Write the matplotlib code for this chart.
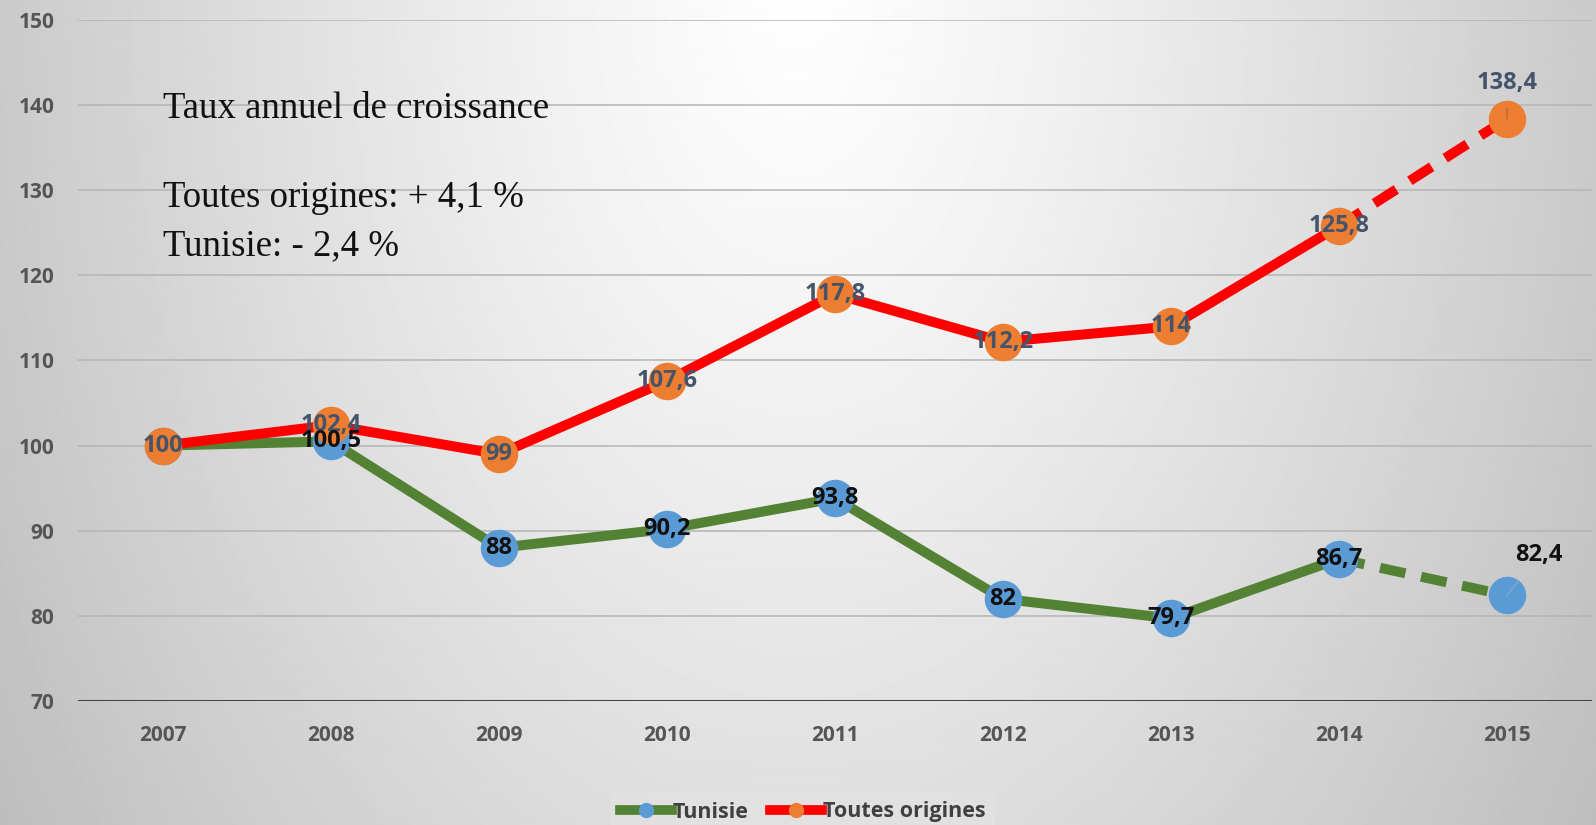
import numpy as np
import matplotlib
matplotlib.use('Agg')
import matplotlib.pyplot as plt
from matplotlib.lines import Line2D

# données
annees = ['2007', '2008', '2009', '2010', '2011', '2012', '2013', '2014', '2015']
tunisie = [100, 100.5, 88, 90.2, 93.8, 82, 79.7, 86.7, 82.4]
toutes = [100, 102.4, 99, 107.6, 117.8, 112.2, 114, 125.8, 138.4]
lab_tunisie = ['100', '100,5', '88', '90,2', '93,8', '82', '79,7', '86,7', '82,4']
lab_toutes = ['100', '102,4', '99', '107,6', '117,8', '112,2', '114', '125,8', '138,4']
yticks = [70, 80, 90, 100, 110, 120, 130, 140, 150]

FONT = 'Open Sans'
W, H = 1596, 825
fig = plt.figure(figsize=(W / 100, H / 100), dpi=100)

# fond dégradé (clair en haut au centre, gris sur les bords)
bg = fig.add_axes([0, 0, 1, 1], zorder=-10)
yy, xx = np.mgrid[0:H:2, 0:W:2]
d = np.sqrt(((xx - W / 2) / 800.0) ** 2 + (yy / 1250.0) ** 2)
val = np.clip(254 - 52 * d ** 1.2, 0, 255) / 255.0
bg.imshow(val, cmap='gray', vmin=0, vmax=1, aspect='auto', extent=[0, 1, 0, 1])
bg.axis('off')

ax = fig.add_axes([78 / W, 1 - 701 / H, (1592 - 78) / W, (701 - 20) / H])
ax.patch.set_alpha(0)
x = np.arange(len(annees))

ax.set_xlim(-0.506, 8.506)
ax.set_ylim(70, 150)
ax.set_yticks(yticks)
for t in yticks[1:]:
    ax.axhline(t, color='#b4b4b4', lw=1.1, zorder=1)
ax.axhline(70, color='#454545', lw=2.2, zorder=2)
for s in ax.spines.values():
    s.set_visible(False)
ax.tick_params(length=0)
ax.set_xticks(x)
ax.set_xticklabels(annees)
for lab in ax.get_xticklabels() + ax.get_yticklabels():
    lab.set_fontfamily(FONT)
    lab.set_fontweight('bold')
    lab.set_fontsize(15)
    lab.set_color('#555555')
ax.tick_params(axis='x', pad=17)
ax.tick_params(axis='y', pad=17)

lw = 7.2
ms = 27
dash = (0, (2.6, 1.6))

# Tunisie
ax.plot(x[:8], tunisie[:8], color='#548235', lw=lw, solid_capstyle='round', zorder=3)
ax.plot(x[7:], tunisie[7:], color='#548235', lw=lw, linestyle=dash, zorder=3)
ax.plot(x, tunisie, 'o', color='#5b9bd5', ms=ms, mec='none', zorder=4)

# Toutes origines
ax.plot(x[:8], toutes[:8], color='#ff0000', lw=lw, solid_capstyle='round', zorder=5)
ax.plot(x[7:], toutes[7:], color='#ff0000', lw=lw, linestyle=dash, zorder=5)
ax.plot(x, toutes, 'o', color='#ed7d31', ms=ms, mec='none', zorder=6)

fs = 17
for i in range(len(x)):
    if i == 8:
        ax.annotate(lab_toutes[i], (x[i], toutes[i]), xytext=(0, 26), textcoords='offset points',
                    ha='center', va='center', fontsize=fs, fontweight='bold', family=FONT,
                    color='#44546a', zorder=8,
                    arrowprops=dict(arrowstyle='-', color='#b0603a', lw=0.9, shrinkA=8, shrinkB=0))
    else:
        ax.text(x[i], toutes[i], lab_toutes[i], ha='center', va='center', fontsize=fs,
                fontweight='bold', family=FONT, color='#44546a', zorder=8)
for i in range(len(x)):
    if i == 8:
        ax.annotate(lab_tunisie[i], (x[i], tunisie[i]), xytext=(23, 29), textcoords='offset points',
                    ha='center', va='center', fontsize=fs, fontweight='bold', family=FONT,
                    color='#111111', zorder=9,
                    arrowprops=dict(arrowstyle='-', color='#8aa7c6', lw=0.9, shrinkA=10, shrinkB=0))
    elif i == 0:
        continue
    else:
        ax.text(x[i], tunisie[i], lab_tunisie[i], ha='center', va='center', fontsize=fs,
                fontweight='bold', family=FONT, color='#111111', zorder=9)

# texte
fig.text(163 / W, 1 - 109 / H, 'Taux annuel de croissance', fontsize=26.5,
         family='Liberation Serif', va='center', ha='left', color='#111111')
fig.text(163 / W, 1 - 198 / H, 'Toutes origines: + 4,1 %', fontsize=26.5,
         family='Liberation Serif', va='center', ha='left', color='#111111')
fig.text(163 / W, 1 - 246 / H, 'Tunisie: - 2,4 %', fontsize=26.5,
         family='Liberation Serif', va='center', ha='left', color='#111111')

# légende
h1 = Line2D([], [], color='#548235', lw=7, marker='o', ms=11, mfc='#5b9bd5', mec='none')
h2 = Line2D([], [], color='#ff0000', lw=7, marker='o', ms=11, mfc='#ed7d31', mec='none')
leg = fig.legend([h1, h2], ['Tunisie', 'Toutes origines'], loc='center',
                 bbox_to_anchor=(803 / W, 1 - 812 / H), ncol=2, frameon=True,
                 prop={'family': FONT, 'weight': 'bold', 'size': 15.5},
                 handlelength=2.4, handletextpad=0.05, columnspacing=1.0,
                 borderpad=0.45, fancybox=False)
leg.get_frame().set_facecolor('#e2e2e2')
leg.get_frame().set_edgecolor('none')
for t in leg.get_texts():
    t.set_color('#404040')

fig.savefig('out.png', dpi=100)
